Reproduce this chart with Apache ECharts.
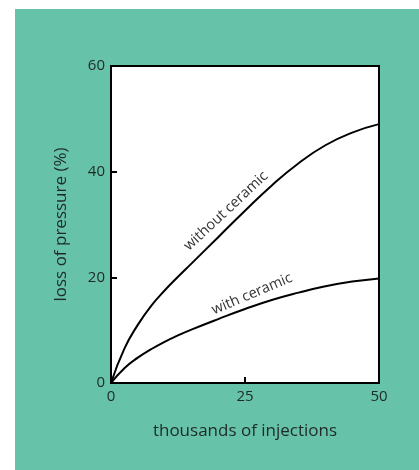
<!DOCTYPE html>
<html>
<head>
<meta charset="utf-8">
<script src="https://cdn.jsdelivr.net/npm/echarts@6/dist/echarts.min.js"></script>
<style>
html,body{margin:0;padding:0;background:#fff;}
#c{width:419px;height:470px;}
</style>
</head>
<body>
<div id="c"></div>
<script>
const injections = [0, 2.5, 5, 7.5, 10, 12.5, 15, 20, 25, 30, 35, 40, 45, 50];
const withoutCeramic = [0, 6.5, 11.0, 14.6, 17.5, 20.1, 22.6, 27.6, 32.6, 37.4, 41.6, 45.0, 47.4, 49.0];
const withCeramic = [0, 2.8, 4.8, 6.4, 7.8, 9.0, 10.1, 12.1, 14.0, 15.7, 17.1, 18.3, 19.2, 19.8];
const xTicks = [0, 25, 50];
const yTicks = [0, 20, 40, 60];
const seriesNames = ['without ceramic', 'with ceramic'];

const chart = echarts.init(document.getElementById('c'), null, {renderer: 'canvas'});
const txtColor = '#1f2a27';
const font = '"Open Sans", Arial, sans-serif';
chart.setOption({
  animation: false,
  backgroundColor: 'transparent',
  grid: {left: 111, top: 66, right: 40, bottom: 87, show: true, backgroundColor: '#fff', borderColor: '#000', borderWidth: 2},
  xAxis: {
    type: 'value', min: xTicks[0], max: xTicks[xTicks.length - 1], interval: xTicks[1] - xTicks[0],
    name: 'thousands of injections', nameLocation: 'middle', nameGap: 40,
    nameTextStyle: {color: txtColor, fontSize: 17, fontFamily: font},
    axisLine: {show: true, lineStyle: {color: '#000', width: 2}},
    axisTick: {show: true, inside: true, length: 6, lineStyle: {color: '#000', width: 2}},
    axisLabel: {color: txtColor, fontSize: 15, fontFamily: font, margin: 6},
    splitLine: {show: false}
  },
  yAxis: {
    type: 'value', min: yTicks[0], max: yTicks[yTicks.length - 1], interval: yTicks[1] - yTicks[0],
    name: 'loss of pressure (%)', nameLocation: 'middle', nameGap: 41, nameRotate: 90,
    nameTextStyle: {color: txtColor, fontSize: 17, fontFamily: font},
    axisLine: {show: true, lineStyle: {color: '#000', width: 2}},
    axisTick: {show: true, inside: true, length: 6, lineStyle: {color: '#000', width: 2}},
    axisLabel: {color: txtColor, fontSize: 15, fontFamily: font, margin: 6},
    splitLine: {show: false}
  },
  graphic: [
    {type: 'rect', z: -10, shape: {x: 15, y: 9, width: 404, height: 461}, style: {fill: '#66c2a8'}, silent: true},
    {type: 'text', z: 10, x: 226, y: 211, rotation: 43 * Math.PI / 180,
      style: {text: seriesNames[0], fill: '#333', font: '14.5px ' + font, textAlign: 'center', textVerticalAlign: 'middle'}},
    {type: 'text', z: 10, x: 252, y: 294, rotation: 23 * Math.PI / 180,
      style: {text: seriesNames[1], fill: '#333', font: '14.5px ' + font, textAlign: 'center', textVerticalAlign: 'middle'}}
  ],
  series: [
    {name: seriesNames[0], type: 'line', smooth: 0.5, showSymbol: false,
      data: injections.map((x, i) => [x, withoutCeramic[i]]), lineStyle: {color: '#000', width: 2}, itemStyle: {color: '#000'}},
    {name: seriesNames[1], type: 'line', smooth: 0.5, showSymbol: false,
      data: injections.map((x, i) => [x, withCeramic[i]]), lineStyle: {color: '#000', width: 2}, itemStyle: {color: '#000'}}
  ]
});
</script>
</body>
</html>
